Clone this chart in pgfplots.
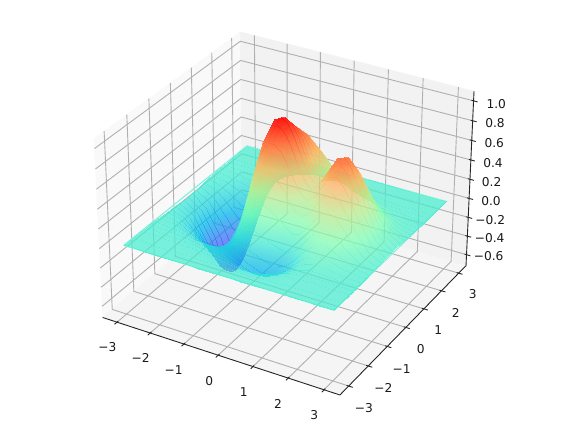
\documentclass[border=0pt]{standalone}
\usepackage{fontspec}
\setmainfont{DejaVu Sans}
\usepackage{pgfplots}
\pgfplotsset{compat=1.18}
\definecolor{paneL}{gray}{0.975}
\definecolor{paneB}{gray}{0.95}
\definecolor{paneF}{gray}{0.9625}
\definecolor{gridc}{gray}{0.69}
\definecolor{sheetedge}{rgb}{.50,.94,.86}
% true (x,y,z) values of the surface, one macro per mesh row
\newcommand\defrow[2]{\expandafter\def\csname r#1\endcsname{#2}}
\defrow{0}{-3 3 0\\-2.6 3 0\\-2.2 3 0\\-2 3 0\\-1.8 3 0\\-1.6 3 0\\-1.4 3 0\\-1.2 3 .001\\-1 3 .001\\-.8 3 .002\\-.6 3 .002\\-.4 3 .003\\-.2 3 .003\\0 3 .004\\.2 3 .003\\.4 3 .003\\.6 3 .002\\.8 3 .002\\1 3 .001\\1.2 3 .001\\1.4 3 .001\\1.6 3 0\\1.8 3 0\\2 3 0\\2.2 3 0\\2.6 3 0\\3 3 0\\}
\defrow{1}{-3 2.6 0\\-2.6 2.6 0\\-2.2 2.6 0\\-2 2.6 0\\-1.8 2.6 0\\-1.6 2.6 .001\\-1.4 2.6 .002\\-1.2 2.6 .005\\-1 2.6 .008\\-.8 2.6 .011\\-.6 2.6 .015\\-.4 2.6 .019\\-.2 2.6 .021\\0 2.6 .022\\.2 2.6 .021\\.4 2.6 .018\\.6 2.6 .015\\.8 2.6 .011\\1 2.6 .008\\1.2 2.6 .006\\1.4 2.6 .004\\1.6 2.6 .003\\1.8 2.6 .002\\2 2.6 .001\\2.2 2.6 .001\\2.6 2.6 0\\3 2.6 0\\}
\defrow{2}{-3 2.2 0\\-2.6 2.2 -.001\\-2.2 2.2 -.002\\-2 2.2 -.003\\-1.8 2.2 -.002\\-1.6 2.2 .001\\-1.4 2.2 .008\\-1.2 2.2 .018\\-1 2.2 .032\\-.8 2.2 .049\\-.6 2.2 .066\\-.4 2.2 .08\\-.2 2.2 .089\\0 2.2 .092\\.2 2.2 .088\\.4 2.2 .077\\.6 2.2 .063\\.8 2.2 .048\\1 2.2 .035\\1.2 2.2 .025\\1.4 2.2 .018\\1.6 2.2 .013\\1.8 2.2 .009\\2 2.2 .006\\2.2 2.2 .004\\2.6 2.2 .001\\3 2.2 0\\}
\defrow{3}{-3 2 -.001\\-2.6 2 -.002\\-2.2 2 -.006\\-2 2 -.007\\-1.8 2 -.007\\-1.6 2 -.001\\-1.4 2 .011\\-1.2 2 .031\\-1 2 .057\\-.8 2 .088\\-.6 2 .118\\-.4 2 .143\\-.2 2 .16\\0 2 .165\\.2 2 .157\\.4 2 .138\\.6 2 .112\\.8 2 .086\\1 2 .064\\1.2 2 .047\\1.4 2 .035\\1.6 2 .027\\1.8 2 .019\\2 2 .013\\2.2 2 .009\\2.6 2 .003\\3 2 .001\\}
\defrow{4}{-3 1.8 -.001\\-2.6 1.8 -.005\\-2.2 1.8 -.014\\-2 1.8 -.017\\-1.8 1.8 -.017\\-1.6 1.8 -.009\\-1.4 1.8 .012\\-1.2 1.8 .046\\-1 1.8 .091\\-.8 1.8 .143\\-.6 1.8 .193\\-.4 1.8 .234\\-.2 1.8 .261\\0 1.8 .268\\.2 1.8 .253\\.4 1.8 .222\\.6 1.8 .181\\.8 1.8 .14\\1 1.8 .106\\1.2 1.8 .081\\1.4 1.8 .064\\1.6 1.8 .05\\1.8 1.8 .038\\2 1.8 .027\\2.2 1.8 .018\\2.6 1.8 .006\\3 1.8 .001\\}
\defrow{5}{-3 1.6 -.002\\-2.6 1.6 -.01\\-2.2 1.6 -.028\\-2 1.6 -.037\\-1.8 1.6 -.039\\-1.6 1.6 -.027\\-1.4 1.6 .005\\-1.2 1.6 .059\\-1 1.6 .131\\-.8 1.6 .211\\-.6 1.6 .287\\-.4 1.6 .348\\-.2 1.6 .386\\0 1.6 .394\\.2 1.6 .371\\.4 1.6 .323\\.6 1.6 .263\\.8 1.6 .205\\1 1.6 .159\\1.2 1.6 .128\\1.4 1.6 .106\\1.6 1.6 .088\\1.8 1.6 .07\\2 1.6 .051\\2.2 1.6 .034\\2.6 1.6 .011\\3 1.6 .002\\}
\defrow{6}{-3 1.4 -.004\\-2.6 1.4 -.019\\-2.2 1.4 -.052\\-2 1.4 -.07\\-1.8 1.4 -.079\\-1.6 1.4 -.065\\-1.4 1.4 -.019\\-1.2 1.4 .062\\-1 1.4 .168\\-.8 1.4 .283\\-.6 1.4 .39\\-.4 1.4 .472\\-.2 1.4 .52\\0 1.4 .527\\.2 1.4 .493\\.4 1.4 .427\\.6 1.4 .346\\.8 1.4 .273\\1 1.4 .22\\1.2 1.4 .188\\1.4 1.4 .167\\1.6 1.4 .146\\1.8 1.4 .12\\2 1.4 .09\\2.2 1.4 .06\\2.6 1.4 .02\\3 1.4 .004\\}
\defrow{7}{-3 1.2 -.007\\-2.6 1.2 -.032\\-2.2 1.2 -.089\\-2 1.2 -.123\\-1.8 1.2 -.142\\-1.6 1.2 -.127\\-1.4 1.2 -.065\\-1.2 1.2 .047\\-1 1.2 .194\\-.8 1.2 .35\\-.6 1.2 .488\\-.4 1.2 .589\\-.2 1.2 .644\\0 1.2 .646\\.2 1.2 .598\\.4 1.2 .512\\.6 1.2 .414\\.8 1.2 .332\\1 1.2 .281\\1.2 1.2 .259\\1.4 1.2 .247\\1.6 1.2 .227\\1.8 1.2 .192\\2 1.2 .146\\2.2 1.2 .1\\2.6 1.2 .033\\3 1.2 .007\\}
\defrow{8}{-3 1 -.011\\-2.6 1 -.049\\-2.2 1 -.141\\-2 1 -.195\\-1.8 1 -.231\\-1.6 1 -.219\\-1.4 1 -.139\\-1.2 1 .01\\-1 1 .203\\-.8 1 .402\\-.6 1 .57\\-.4 1 .687\\-.2 1 .742\\0 1 .736\\.2 1 .672\\.4 1 .567\\.6 1 .456\\.8 1 .374\\1 1 .338\\1.2 1 .339\\1.4 1 .346\\1.6 1 .332\\1.8 1 .288\\2 1 .222\\2.2 1 .153\\2.6 1 .051\\3 1 .011\\}
\defrow{9}{-3 .8 -.016\\-2.6 .8 -.071\\-2.2 .8 -.204\\-2 .8 -.285\\-1.8 .8 -.34\\-1.6 .8 -.333\\-1.4 .8 -.235\\-1.2 .8 -.047\\-1 .8 .196\\-.8 .8 .441\\-.6 .8 .638\\-.4 .8 .765\\-.2 .8 .817\\0 .8 .797\\.2 .8 .715\\.4 .8 .594\\.6 .8 .475\\.8 .8 .4\\1 .8 .39\\1.2 .8 .425\\1.4 .8 .46\\1.6 .8 .456\\1.8 .8 .403\\2 .8 .314\\2.2 .8 .217\\2.6 .8 .073\\3 .8 .016\\}
\defrow{10}{-3 .6 -.021\\-2.6 .6 -.094\\-2.2 .6 -.272\\-2 .6 -.381\\-1.8 .6 -.459\\-1.6 .6 -.457\\-1.4 .6 -.34\\-1.2 .6 -.111\\-1 .6 .184\\-.8 .6 .474\\-.6 .6 .7\\-.4 .6 .836\\-.2 .6 .882\\0 .6 .848\\.2 .6 .748\\.4 .6 .61\\.6 .6 .484\\.8 .6 .421\\1 .6 .44\\1.2 .6 .513\\1.4 .6 .579\\1.6 .6 .588\\1.8 .6 .525\\2 .6 .412\\2.2 .6 .285\\2.6 .6 .096\\3 .6 .021\\}
\defrow{11}{-3 .4 -.025\\-2.6 .4 -.115\\-2.2 .4 -.333\\-2 .4 -.467\\-1.8 .4 -.565\\-1.6 .4 -.568\\-1.4 .4 -.434\\-1.2 .4 -.166\\-1 .4 .177\\-.8 .4 .511\\-.6 .4 .765\\-.4 .4 .911\\-.2 .4 .953\\0 .4 .907\\.2 .4 .789\\.4 .4 .635\\.6 .4 .501\\.8 .4 .446\\1 .4 .49\\1.2 .4 .596\\1.4 .4 .689\\1.6 .4 .708\\1.8 .4 .636\\2 .4 .5\\2.2 .4 .347\\2.6 .4 .117\\3 .4 .026\\}
\defrow{12}{-3 .2 -.029\\-2.6 .2 -.13\\-2.2 .2 -.376\\-2 .2 -.528\\-1.8 .2 -.639\\-1.6 .2 -.645\\-1.4 .2 -.497\\-1.2 .2 -.2\\-1 .2 .18\\-.8 .2 .547\\-.6 .2 .825\\-.4 .2 .981\\-.2 .2 1.023\\0 .2 .969\\.2 .2 .838\\.4 .2 .67\\.6 .2 .527\\.8 .2 .474\\1 .2 .533\\1.2 .2 .659\\1.4 .2 .77\\1.6 .2 .794\\1.8 .2 .715\\2 .2 .563\\2.2 .2 .391\\2.6 .2 .132\\3 .2 .029\\}
\defrow{13}{-3 0 -.03\\-2.6 0 -.135\\-2.2 0 -.391\\-2 0 -.55\\-1.8 0 -.666\\-1.6 0 -.671\\-1.4 0 -.518\\-1.2 0 -.21\\-1 0 .184\\-.8 0 .565\\-.6 0 .853\\-.4 0 1.014\\-.2 0 1.057\\0 0 1\\.2 0 .865\\.4 0 .69\\.6 0 .543\\.8 0 .489\\1 0 .552\\1.2 0 .684\\1.4 0 .8\\1.6 0 .826\\1.8 0 .744\\2 0 .586\\2.2 0 .407\\2.6 0 .137\\3 0 .03\\}
\defrow{14}{-3 -.2 -.029\\-2.6 -.2 -.13\\-2.2 -.2 -.376\\-2 -.2 -.528\\-1.8 -.2 -.64\\-1.6 -.2 -.646\\-1.4 -.2 -.499\\-1.2 -.2 -.204\\-1 -.2 .174\\-.8 -.2 .539\\-.6 -.2 .814\\-.4 -.2 .968\\-.2 -.2 1.008\\0 -.2 .953\\.2 -.2 .823\\.4 -.2 .657\\.6 -.2 .516\\.8 -.2 .466\\1 -.2 .527\\1.2 -.2 .656\\1.4 -.2 .767\\1.6 -.2 .793\\1.8 -.2 .714\\2 -.2 .563\\2.2 -.2 .391\\2.6 -.2 .132\\3 -.2 .029\\}
\defrow{15}{-3 -.4 -.025\\-2.6 -.4 -.115\\-2.2 -.4 -.334\\-2 -.4 -.469\\-1.8 -.4 -.569\\-1.6 -.4 -.576\\-1.4 -.4 -.449\\-1.2 -.4 -.192\\-1 -.4 .137\\-.8 -.4 .453\\-.6 -.4 .689\\-.4 -.4 .818\\-.2 -.4 .848\\0 -.4 .798\\.2 -.4 .685\\.4 -.4 .542\\.6 -.4 .425\\.8 -.4 .388\\1 -.4 .45\\1.2 -.4 .57\\1.4 -.4 .674\\1.6 -.4 .7\\1.8 -.4 .632\\2 -.4 .498\\2.2 -.4 .346\\2.6 -.4 .117\\3 -.4 .026\\}
\defrow{16}{-3 -.6 -.021\\-2.6 -.6 -.094\\-2.2 -.6 -.274\\-2 -.6 -.386\\-1.8 -.6 -.47\\-1.6 -.6 -.48\\-1.4 -.6 -.383\\-1.2 -.6 -.183\\-1 -.6 .073\\-.8 -.6 .315\\-.6 -.6 .49\\-.4 -.6 .579\\-.2 -.6 .593\\0 -.6 .547\\.2 -.6 .459\\.4 -.6 .353\\.6 -.6 .274\\.8 -.6 .262\\1 -.6 .33\\1.2 -.6 .442\\1.4 -.6 .537\\1.6 -.6 .565\\1.8 -.6 .513\\2 -.6 .406\\2.2 -.6 .283\\2.6 -.6 .096\\3 -.6 .021\\}
\defrow{17}{-3 -.8 -.016\\-2.6 -.8 -.072\\-2.2 -.8 -.208\\-2 -.8 -.295\\-1.8 -.8 -.362\\-1.6 -.8 -.375\\-1.4 -.8 -.311\\-1.2 -.8 -.175\\-1 -.8 -.002\\-.8 -.8 .156\\-.6 -.8 .261\\-.4 -.8 .305\\-.2 -.8 .298\\0 -.8 .257\\.2 -.8 .197\\.4 -.8 .134\\.6 -.8 .098\\.8 -.8 .116\\1 -.8 .192\\1.2 -.8 .297\\1.4 -.8 .384\\1.6 -.8 .415\\1.8 -.8 .382\\2 -.8 .304\\2.2 -.8 .212\\2.6 -.8 .072\\3 -.8 .016\\}
\defrow{18}{-3 -1 -.011\\-2.6 -1 -.05\\-2.2 -1 -.147\\-2 -1 -.209\\-1.8 -1 -.259\\-1.6 -1 -.275\\-1.4 -1 -.242\\-1.2 -1 -.165\\-1 -1 -.068\\-.8 -1 .014\\-.6 -1 .057\\-.4 -1 .06\\-.2 -1 .035\\0 -1 0\\.2 -1 -.035\\.4 -1 -.06\\.6 -1 -.057\\.8 -1 -.014\\1 -1 .068\\1.2 -1 .165\\1.4 -1 .242\\1.6 -1 .275\\1.8 -1 .259\\2 -1 .209\\2.2 -1 .147\\2.6 -1 .05\\3 -1 .011\\}
\defrow{19}{-3 -1.2 -.007\\-2.6 -1.2 -.033\\-2.2 -1.2 -.096\\-2 -1.2 -.138\\-1.8 -1.2 -.174\\-1.6 -1.2 -.191\\-1.4 -1.2 -.18\\-1.2 -1.2 -.147\\-1 -1.2 -.107\\-.8 -1.2 -.082\\-.6 -1.2 -.084\\-.4 -1.2 -.109\\-.2 -1.2 -.143\\0 -1.2 -.173\\.2 -1.2 -.189\\.4 -1.2 -.185\\.6 -1.2 -.157\\.8 -1.2 -.1\\1 -1.2 -.02\\1.2 -1.2 .065\\1.4 -1.2 .132\\1.6 -1.2 .164\\1.8 -1.2 .16\\2 -1.2 .131\\2.2 -1.2 .093\\2.6 -1.2 .032\\3 -1.2 .007\\}
\defrow{20}{-3 -1.4 -.004\\-2.6 -1.4 -.02\\-2.2 -1.4 -.058\\-2 -1.4 -.085\\-1.8 -1.4 -.109\\-1.6 -1.4 -.125\\-1.4 -1.4 -.127\\-1.2 -1.4 -.121\\-1 -1.4 -.116\\-.8 -1.4 -.124\\-.6 -1.4 -.15\\-.4 -1.4 -.187\\-.2 -1.4 -.223\\0 -1.4 -.246\\.2 -1.4 -.25\\.4 -1.4 -.232\\.6 -1.4 -.193\\.8 -1.4 -.135\\1 -1.4 -.065\\1.2 -1.4 .005\\1.4 -1.4 .058\\1.6 -1.4 .087\\1.8 -1.4 .09\\2 -1.4 .076\\2.2 -1.4 .054\\2.6 -1.4 .019\\3 -1.4 .004\\}
\defrow{21}{-3 -1.6 -.002\\-2.6 -1.6 -.011\\-2.2 -1.6 -.033\\-2 -1.6 -.048\\-1.8 -1.6 -.064\\-1.6 -1.6 -.076\\-1.4 -1.6 -.085\\-1.2 -1.6 -.091\\-1 -1.6 -.102\\-.8 -1.6 -.123\\-.6 -1.6 -.155\\-.4 -1.6 -.191\\-.2 -1.6 -.223\\0 -1.6 -.239\\.2 -1.6 -.237\\.4 -1.6 -.216\\.6 -1.6 -.179\\.8 -1.6 -.129\\1 -1.6 -.074\\1.2 -1.6 -.022\\1.4 -1.6 .017\\1.6 -1.6 .039\\1.8 -1.6 .045\\2 -1.6 .04\\2.2 -1.6 .029\\2.6 -1.6 .01\\3 -1.6 .002\\}
\defrow{22}{-3 -1.8 -.001\\-2.6 -1.8 -.006\\-2.2 -1.8 -.017\\-2 -1.8 -.026\\-1.8 -1.8 -.035\\-1.6 -1.8 -.044\\-1.4 -1.8 -.053\\-1.2 -1.8 -.062\\-1 -1.8 -.077\\-.8 -1.8 -.098\\-.6 -1.8 -.126\\-.4 -1.8 -.155\\-.2 -1.8 -.178\\0 -1.8 -.189\\.2 -1.8 -.186\\.4 -1.8 -.168\\.6 -1.8 -.138\\.8 -1.8 -.101\\1 -1.8 -.062\\1.2 -1.8 -.027\\1.4 -1.8 -.001\\1.6 -1.8 .015\\1.8 -1.8 .02\\2 -1.8 .019\\2.2 -1.8 .014\\2.6 -1.8 .005\\3 -1.8 .001\\}
\defrow{23}{-3 -2 -.001\\-2.6 -2 -.003\\-2.2 -2 -.008\\-2 -2 -.013\\-1.8 -2 -.018\\-1.6 -2 -.024\\-1.4 -2 -.03\\-1.2 -2 -.039\\-1 -2 -.051\\-.8 -2 -.067\\-.6 -2 -.087\\-.4 -2 -.106\\-.2 -2 -.121\\0 -2 -.128\\.2 -2 -.125\\.4 -2 -.112\\.6 -2 -.092\\.8 -2 -.068\\1 -2 -.044\\1.2 -2 -.022\\1.4 -2 -.006\\1.6 -2 .004\\1.8 -2 .008\\2 -2 .008\\2.2 -2 .006\\2.6 -2 .002\\3 -2 .001\\}
\defrow{24}{-3 -2.2 0\\-2.6 -2.2 -.001\\-2.2 -2.2 -.004\\-2 -2.2 -.006\\-1.8 -2.2 -.009\\-1.6 -2.2 -.012\\-1.4 -2.2 -.016\\-1.2 -2.2 -.022\\-1 -2.2 -.03\\-.8 -2.2 -.04\\-.6 -2.2 -.052\\-.4 -2.2 -.064\\-.2 -2.2 -.073\\0 -2.2 -.076\\.2 -2.2 -.074\\.4 -2.2 -.066\\.6 -2.2 -.055\\.8 -2.2 -.041\\1 -2.2 -.027\\1.2 -2.2 -.015\\1.4 -2.2 -.006\\1.6 -2.2 0\\1.8 -2.2 .003\\2 -2.2 .003\\2.2 -2.2 .003\\2.6 -2.2 .001\\3 -2.2 0\\}
\defrow{25}{-3 -2.6 0\\-2.6 -2.6 0\\-2.2 -2.6 -.001\\-2 -2.6 -.001\\-1.8 -2.6 -.002\\-1.6 -2.6 -.002\\-1.4 -2.6 -.004\\-1.2 -2.6 -.005\\-1 -2.6 -.007\\-.8 -2.6 -.01\\-.6 -2.6 -.013\\-.4 -2.6 -.016\\-.2 -2.6 -.018\\0 -2.6 -.019\\.2 -2.6 -.019\\.4 -2.6 -.017\\.6 -2.6 -.014\\.8 -2.6 -.01\\1 -2.6 -.007\\1.2 -2.6 -.004\\1.4 -2.6 -.002\\1.6 -2.6 -.001\\1.8 -2.6 0\\2 -2.6 0\\2.2 -2.6 0\\2.6 -2.6 0\\3 -2.6 0\\}
\defrow{26}{-3 -3 0\\-2.6 -3 0\\-2.2 -3 0\\-2 -3 0\\-1.8 -3 0\\-1.6 -3 0\\-1.4 -3 -.001\\-1.2 -3 -.001\\-1 -3 -.001\\-.8 -3 -.002\\-.6 -3 -.002\\-.4 -3 -.003\\-.2 -3 -.003\\0 -3 -.003\\.2 -3 -.003\\.4 -3 -.003\\.6 -3 -.002\\.8 -3 -.002\\1 -3 -.001\\1.2 -3 -.001\\1.4 -3 0\\1.6 -3 0\\1.8 -3 0\\2 -3 0\\2.2 -3 0\\2.6 -3 0\\3 -3 0\\}
% matplotlib's perspective camera (elev 30, azim -60), in pixels of the 563x422 picture
\newcommand\den{(1-(.7492*(\thisrow{x})-1.2977*(\thisrow{y})+2.4579*(\thisrow{z}-.1895))/100)}
\pgfplotsset{
  table/proj/.style={row sep=\\,
    x expr={287.7+130.5*(.26243*(\thisrow{x})+.15152*(\thisrow{y}))/\den},
    y expr={204.7-130.5*(-.07576*(\thisrow{x})+.13121*(\thisrow{y})+.74554*(\thisrow{z}-.1895))/\den},
    z expr=0},
  gridline/.style={gridc,line width=.9pt,no marks},
  axline/.style={black!85,line width=.9pt,no marks},
  surfstrip/.style={surf,shader=interp,mesh/rows=2,mesh/ordering=x varies,z buffer=none,opacity=.72,
    point meta=\thisrow{z},point meta min=-.672,point meta max=1.057},
  colormap={mplrainbow}{rgb=(.5,0,1) rgb=(.25,.383,.981) rgb=(0,.707,.924) rgb=(.25,.924,.831) rgb=(.5,1,.707) rgb=(.75,.924,.556) rgb=(1,.707,.383) rgb=(1,.383,.195) rgb=(1,0,0)},
}
\tikzset{lab/.style={font=\fontsize{12.2}{14}\selectfont,text=black!90,inner sep=0pt}}
\begin{document}
\begin{tikzpicture}
\useasboundingbox (0,0) rectangle (563pt,422pt);
\begin{axis}[at={(0,0)},anchor=south west,scale only axis,width=563pt,height=422pt,
  xmin=0,xmax=563,ymin=0,ymax=422,zmin=-1,zmax=1,y dir=reverse,view={0}{90},hide axis,clip=false,
  colormap name=mplrainbow]
% panes
\addplot3[fill=paneL,draw=paneL,no marks] table[proj]{x y z\\ -3.4375 -3.4375 -.718\\ -3.4375 3.4375 -.718\\ -3.4375 3.4375 1.097\\ -3.4375 -3.4375 1.097\\ -3.4375 -3.4375 -.718\\};
\addplot3[fill=paneB,draw=paneB,no marks] table[proj]{x y z\\ -3.4375 3.4375 -.718\\ 3.4375 3.4375 -.718\\ 3.4375 3.4375 1.097\\ -3.4375 3.4375 1.097\\ -3.4375 3.4375 -.718\\};
\addplot3[fill=paneF,draw=paneF,no marks] table[proj]{x y z\\ -3.4375 -3.4375 -.718\\ 3.4375 -3.4375 -.718\\ 3.4375 3.4375 -.718\\ -3.4375 3.4375 -.718\\ -3.4375 -3.4375 -.718\\};
% grid
\pgfplotsinvokeforeach{-3,-2,-1,0,1,2,3}{
  \addplot3[gridline] table[proj]{x y z\\ #1 -3.4375 -.718\\ #1 3.4375 -.718\\ #1 3.4375 1.097\\};
  \addplot3[gridline] table[proj]{x y z\\ 3.4375 #1 -.718\\ -3.4375 #1 -.718\\ -3.4375 #1 1.097\\};
}
\pgfplotsinvokeforeach{-.6,-.4,-.2,0,.2,.4,.6,.8,1}{
  \addplot3[gridline] table[proj]{x y z\\ -3.4375 -3.4375 #1\\ -3.4375 3.4375 #1\\ 3.4375 3.4375 #1\\};
}
% a thin rim under the sheet's outer edge, which keeps that edge clean
\addplot3[sheetedge,line width=1.1pt,no marks] table[proj]{x y z\\ -3 -3 0\\ 3 -3 0\\ 3 3 0\\ -3 3 0\\ -3 -3 0\\};
% surface, one band of the mesh at a time from back to front, so that bands show through each other
\pgfplotsforeachungrouped \k in {0,...,25}{
  \edef\nextk{\the\numexpr\k+1\relax}
  \edef\temp{\noexpand\addplot3[surfstrip] table[proj]{x y z\noexpand\\ \unexpanded\expandafter\expandafter\expandafter{\csname r\k\endcsname}\unexpanded\expandafter\expandafter\expandafter{\csname r\nextk\endcsname}};}
  \temp
}
% axis lines and ticks
\addplot3[axline] table[proj]{x y z\\ -3.4375 -3.4375 -.718\\ 3.4375 -3.4375 -.718\\ 3.4375 3.4375 -.718\\ 3.4375 3.4375 1.097\\};
\pgfplotsinvokeforeach{-3,-2,-1,0,1,2,3}{
  \addplot3[axline] table[proj]{x y z\\ #1 -3.55 -.718\\ #1 -3.38 -.718\\};
  \addplot3[axline] table[proj]{x y z\\ 3.55 #1 -.718\\ 3.38 #1 -.718\\};
}
\pgfplotsinvokeforeach{-.6,-.4,-.2,0,.2,.4,.6,.8,1}{
  \addplot3[axline] table[proj]{x y z\\ 3.55 3.4375 #1\\ 3.38 3.4375 #1\\};
}
% tick labels
\node[lab] at (axis cs:107.3,347.3) {−3};
\node[lab] at (axis cs:140.7,358) {−2};
\node[lab] at (axis cs:173.7,369.7) {−1};
\node[lab] at (axis cs:209.3,380.7) {0};
\node[lab] at (axis cs:243.7,392.3) {1};
\node[lab] at (axis cs:278,403.7) {2};
\node[lab] at (axis cs:314.3,415.3) {3};
\node[lab] at (axis cs:364,408.3) {−3};
\node[lab] at (axis cs:383.3,388) {−2};
\node[lab] at (axis cs:401.7,368.7) {−1};
\node[lab] at (axis cs:420.7,349.3) {0};
\node[lab] at (axis cs:438.3,330) {1};
\node[lab] at (axis cs:455.7,312.7) {2};
\node[lab] at (axis cs:472.7,293.7) {3};
\node[lab] at (axis cs:496.3,103.7) {1.0};
\node[lab] at (axis cs:495,123.3) {0.8};
\node[lab] at (axis cs:494.3,143.3) {0.6};
\node[lab] at (axis cs:493,162.7) {0.4};
\node[lab] at (axis cs:491.7,182) {0.2};
\node[lab] at (axis cs:491,201) {0.0};
\node[lab] at (axis cs:490.3,219.7) {−0.2};
\node[lab] at (axis cs:489.7,238.3) {−0.4};
\node[lab] at (axis cs:488.7,256.3) {−0.6};
\end{axis}
\end{tikzpicture}
\end{document}
